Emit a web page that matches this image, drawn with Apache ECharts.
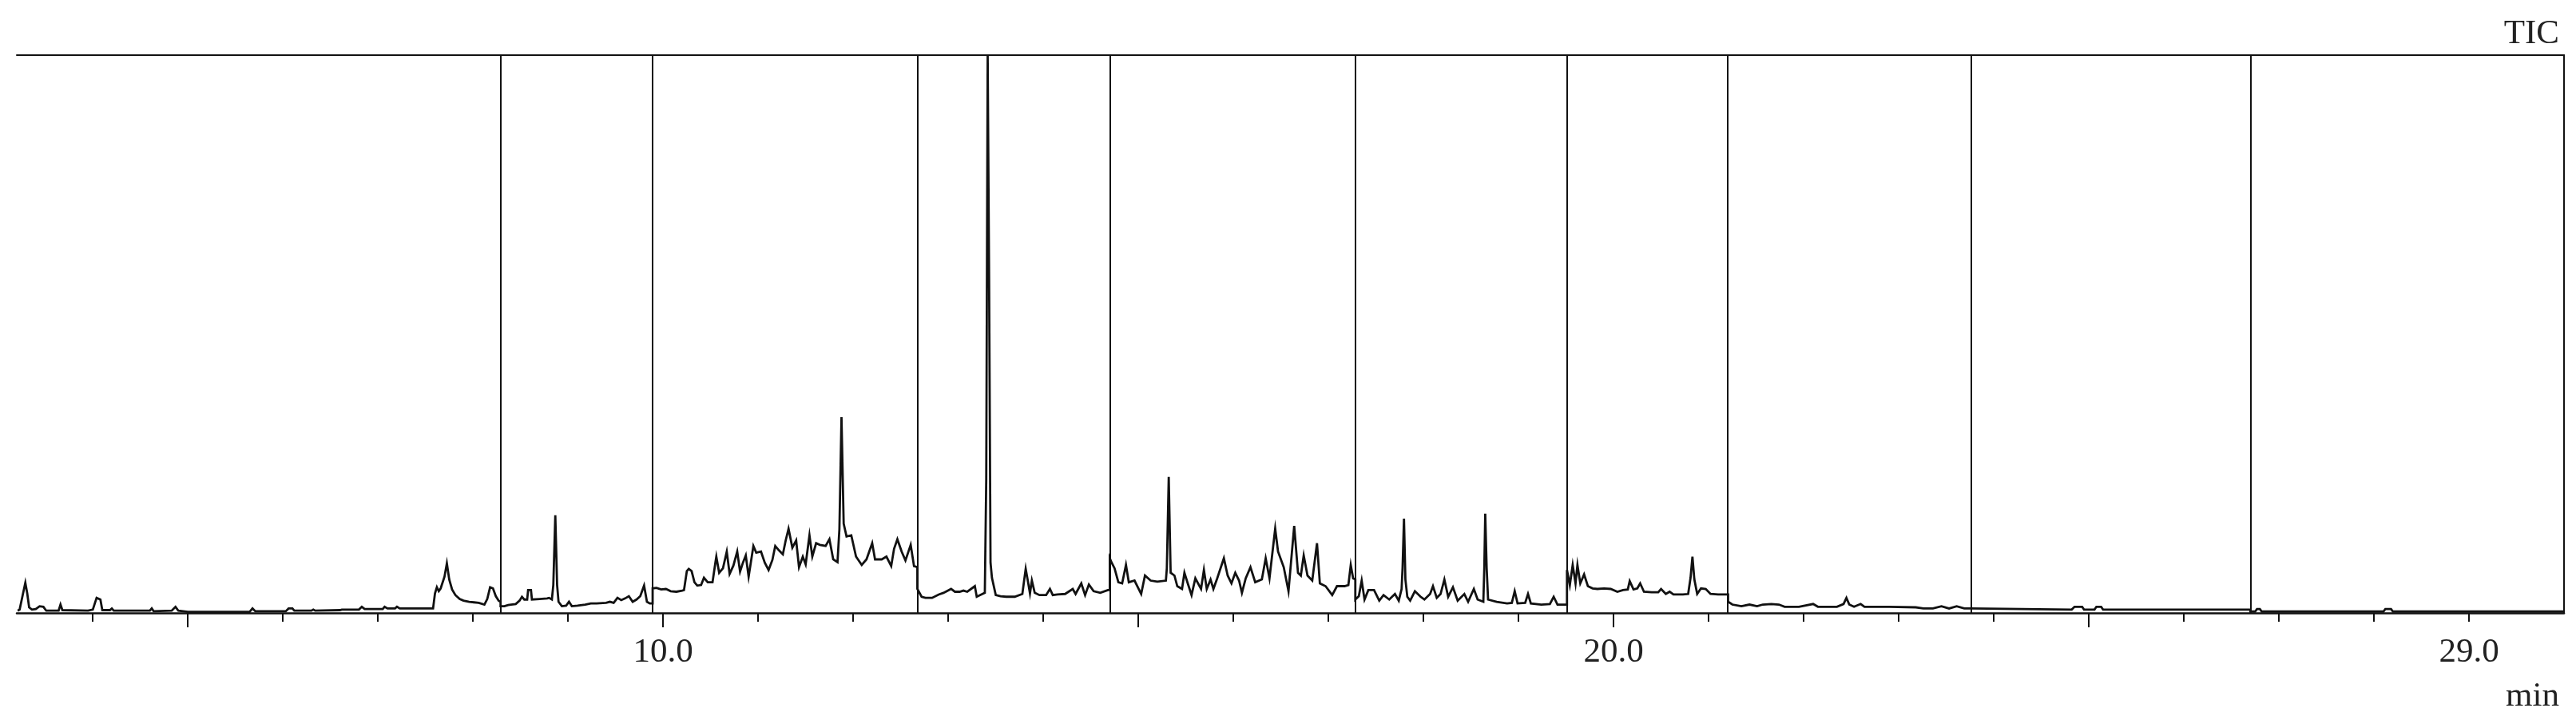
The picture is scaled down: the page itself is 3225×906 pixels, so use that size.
<!DOCTYPE html>
<html>
<head>
<meta charset="utf-8">
<script src="https://cdn.jsdelivr.net/npm/echarts@6/dist/echarts.min.js"></script>
<style>
html,body{margin:0;padding:0;background:#fff;}
#chart{width:3225px;height:906px;}
</style>
</head>
<body>
<div id="chart"></div>
<script>
// Retention time (min) / relative intensity pairs, one array per acquisition segment
const segA = [[3.21,0.4],[3.23,0.6],[3.26,3.0],[3.29,5.4],[3.31,3.5],[3.33,1.0],[3.36,0.6],[3.40,0.7],[3.44,1.2],[3.48,1.1],[3.51,0.4],[3.64,0.4],[3.66,1.5],[3.68,0.5],[3.95,0.4],[4.00,0.6],[4.04,2.7],[4.08,2.4],[4.10,0.5],[4.18,0.5],[4.20,0.8],[4.22,0.4],[4.60,0.4],[4.62,0.8],[4.64,0.3],[4.83,0.4],[4.87,1.1],[4.90,0.4],[5.00,0.2],[5.65,0.2],[5.68,0.8],[5.71,0.3],[6.03,0.3],[6.06,0.8],[6.10,0.8],[6.12,0.4],[6.30,0.4],[6.32,0.6],[6.34,0.4],[6.60,0.5],[6.62,0.6],[6.80,0.6],[6.83,1.1],[6.86,0.7],[7.05,0.7],[7.07,1.1],[7.10,0.8],[7.18,0.8],[7.20,1.1],[7.23,0.8],[7.58,0.8],[7.60,3.5],[7.62,4.6],[7.64,3.9],[7.66,4.4],[7.70,6.5],[7.725,8.9],[7.75,6.0],[7.78,4.2],[7.815,3.2],[7.86,2.5],[7.90,2.2],[7.96,2.0],[8.01,1.9],[8.06,1.8],[8.12,1.5],[8.15,2.5],[8.18,4.6],[8.21,4.4],[8.24,3.0],[8.27,2.2],[8.29,2.0]];
const segB = [[8.29,1.2],[8.33,1.2],[8.37,1.4],[8.40,1.5],[8.45,1.6],[8.49,2.2],[8.515,2.9],[8.54,2.4],[8.57,2.4],[8.58,4.1],[8.61,4.1],[8.62,2.4],[8.70,2.5],[8.78,2.6],[8.80,2.7],[8.83,2.4],[8.845,5.0],[8.866,17.5],[8.885,5.0],[8.90,2.0],[8.935,1.2],[8.98,1.3],[9.01,2.0],[9.04,1.2],[9.10,1.3],[9.18,1.5],[9.24,1.7],[9.30,1.7],[9.40,1.8],[9.44,2.0],[9.48,1.8],[9.52,2.7],[9.56,2.3],[9.60,2.6],[9.64,3.0],[9.68,2.0],[9.72,2.4],[9.76,3.0],[9.80,4.9],[9.83,2.0],[9.86,1.7],[9.89,1.7]];
const segC = [[9.89,4.4],[9.93,4.5],[9.98,4.2],[10.03,4.3],[10.08,3.9],[10.14,3.8],[10.20,4.0],[10.22,4.1],[10.25,7.5],[10.27,7.9],[10.30,7.5],[10.33,5.5],[10.36,4.9],[10.40,5.0],[10.43,6.3],[10.47,5.5],[10.52,5.5],[10.55,9.0],[10.56,10.1],[10.59,7.2],[10.63,8.0],[10.67,11.0],[10.70,7.0],[10.74,8.5],[10.78,11.0],[10.81,7.4],[10.84,9.0],[10.87,10.3],[10.90,6.5],[10.95,12.0],[10.98,10.8],[11.03,11.0],[11.07,9.0],[11.11,7.7],[11.15,9.5],[11.18,12.0],[11.22,11.2],[11.26,10.5],[11.29,13.0],[11.32,15.1],[11.36,11.7],[11.40,13.0],[11.43,8.2],[11.47,10.1],[11.50,8.7],[11.54,13.9],[11.57,10.1],[11.61,12.5],[11.65,12.2],[11.71,12.0],[11.75,13.2],[11.79,9.6],[11.835,9.1],[11.855,15.0],[11.877,35.1],[11.90,16.0],[11.93,13.7],[11.98,13.9],[12.03,10.1],[12.09,8.6],[12.14,9.6],[12.20,12.5],[12.23,9.6],[12.30,9.6],[12.35,10.1],[12.40,8.4],[12.43,11.5],[12.465,13.2],[12.51,11.0],[12.55,9.4],[12.605,12.2],[12.64,8.4],[12.675,8.2]];
const segD = [[12.675,4.3],[12.72,2.9],[12.76,2.7],[12.83,2.7],[12.90,3.3],[12.95,3.6],[13.03,4.3],[13.07,3.8],[13.12,3.8],[13.16,4.0],[13.20,3.8],[13.28,4.8],[13.30,2.9],[13.36,3.4],[13.385,3.6],[13.40,24],[13.415,100],[13.43,60],[13.445,9],[13.46,6.3],[13.50,3.2],[13.55,3.0],[13.61,2.9],[13.70,2.9],[13.78,3.4],[13.80,6.0],[13.815,7.9],[13.84,5.5],[13.86,3.5],[13.88,5.8],[13.91,3.6],[13.96,3.2],[14.03,3.2],[14.07,4.3],[14.10,3.2],[14.15,3.3],[14.23,3.4],[14.31,4.3],[14.34,3.4],[14.40,5.3],[14.44,3.2],[14.48,5.1],[14.53,3.9],[14.60,3.6],[14.68,4.1],[14.70,4.1]];
const segE = [[14.70,9.8],[14.72,9.0],[14.75,8.0],[14.79,5.5],[14.83,5.3],[14.87,8.6],[14.90,5.5],[14.96,5.8],[15.03,3.4],[15.07,6.7],[15.13,5.8],[15.20,5.6],[15.29,5.8],[15.30,8.0],[15.32,24.4],[15.34,7.2],[15.38,6.7],[15.41,4.8],[15.46,4.3],[15.485,7.2],[15.52,5.3],[15.56,3.2],[15.60,6.2],[15.66,4.3],[15.69,7.7],[15.72,4.3],[15.76,6.0],[15.79,4.3],[15.83,6.2],[15.90,9.8],[15.94,6.7],[15.98,5.3],[16.02,7.2],[16.06,5.8],[16.09,3.6],[16.13,6.2],[16.18,8.2],[16.23,5.5],[16.30,6.0],[16.34,9.8],[16.38,6.2],[16.44,15.1],[16.47,11.0],[16.53,8.2],[16.58,3.9],[16.64,15.6],[16.68,7.2],[16.71,6.7],[16.74,10.3],[16.78,6.7],[16.83,5.8],[16.88,12.5],[16.91,5.3],[16.97,4.8],[17.04,3.2],[17.09,4.8],[17.17,4.8],[17.21,5.0],[17.235,8.6],[17.26,6.2],[17.283,6.0]];
const segF = [[17.283,2.4],[17.32,3.0],[17.35,5.8],[17.38,2.4],[17.42,4.1],[17.48,4.1],[17.535,2.2],[17.58,3.2],[17.64,2.4],[17.70,3.4],[17.74,2.2],[17.77,4.3],[17.78,8.0],[17.795,16.9],[17.81,6.0],[17.83,2.9],[17.86,2.2],[17.91,3.9],[17.97,2.9],[18.01,2.4],[18.07,3.4],[18.10,4.8],[18.14,2.7],[18.18,3.4],[18.22,6.0],[18.26,2.9],[18.31,4.6],[18.36,2.2],[18.43,3.4],[18.47,2.0],[18.53,4.3],[18.57,2.4],[18.63,2.0],[18.64,8.0],[18.65,17.8],[18.665,8.0],[18.68,2.4],[18.77,2.0],[18.88,1.7],[18.93,1.8],[18.96,3.9],[18.99,1.7],[19.07,1.8],[19.10,3.4],[19.13,1.7],[19.24,1.5],[19.33,1.6],[19.37,2.9],[19.41,1.5],[19.51,1.5]];
const segG = [[19.51,7.7],[19.54,5.0],[19.57,8.6],[19.60,5.3],[19.62,8.6],[19.65,5.3],[19.69,6.9],[19.73,4.8],[19.78,4.4],[19.83,4.3],[19.90,4.4],[19.97,4.3],[20.04,3.8],[20.10,4.1],[20.15,4.2],[20.17,5.7],[20.21,4.2],[20.25,4.4],[20.28,5.3],[20.32,3.8],[20.40,3.7],[20.47,3.7],[20.50,4.3],[20.55,3.4],[20.59,3.8],[20.63,3.3],[20.73,3.3],[20.785,3.4],[20.81,6.3],[20.83,10.1],[20.85,6.0],[20.88,3.4],[20.92,4.4],[20.97,4.3],[21.02,3.4],[21.10,3.3],[21.205,3.3]];
const segH = [[21.205,2.0],[21.25,1.5],[21.345,1.2],[21.43,1.5],[21.51,1.2],[21.57,1.5],[21.66,1.6],[21.74,1.5],[21.80,1.1],[21.95,1.1],[22.10,1.6],[22.15,1.1],[22.35,1.1],[22.42,1.6],[22.45,2.7],[22.48,1.5],[22.53,1.1],[22.60,1.6],[22.64,1.1],[22.90,1.1],[23.18,1.0],[23.26,0.8],[23.36,0.8],[23.45,1.2],[23.53,0.8],[23.61,1.2],[23.69,0.8],[23.76,0.8]];
const segI = [[23.76,0.6],[24.82,0.6],[24.85,1.1],[24.93,1.1],[24.95,0.6],[25.06,0.6],[25.08,1.1],[25.13,1.1],[25.15,0.6],[26.70,0.6]];
const segJ = [[26.70,0.25],[26.75,0.25],[26.77,0.7],[26.80,0.7],[26.82,0.25],[28.10,0.25],[28.12,0.7],[28.18,0.7],[28.20,0.25],[30.0,0.25]];

const segmentBoundaries = [8.29, 9.89, 12.675, 14.70, 17.283, 19.51, 21.205, 23.76, 26.70];
const minorTicks = [4,5,6,7,8,9,10,11,12,13,14,15,16,17,18,19,20,21,22,23,24,25,26,27,28,29];
const majorTicks = [5,10,15,20,25];
const tickLabels = [10,20,29];
const xMin = 3.2, xMax = 30.0;
const yMin = 0, yMax = 100;
const traceName = 'TIC';
const unitName = 'min';

const trace = [].concat(segA, segB, segC, segD, segE, segF, segG, segH, segI, segJ);

const font = '"Liberation Serif", "Times New Roman", Times, serif';
const ink = '#111';

const chart = echarts.init(document.getElementById('chart'), null, {renderer: 'canvas'});
chart.setOption({
  backgroundColor: '#ffffff',
  animation: false,
  title: [
    {text: traceName, right: 16, top: 16, textStyle: {fontFamily: font, fontSize: 43, fontWeight: 'normal', color: '#222'}},
    {text: unitName, right: 16, top: 845, textStyle: {fontFamily: font, fontSize: 43, fontWeight: 'normal', color: '#222'}}
  ],
  grid: {left: 21, right: 15, top: 69, bottom: 139, containLabel: false, outerBoundsMode: 'none'},
  xAxis: [
    {
      type: 'value', position: 'bottom', min: xMin, max: xMax,
      axisLine: {show: true, onZero: false, lineStyle: {color: ink, width: 2.5}},
      axisTick: {show: true, customValues: minorTicks, length: 11, lineStyle: {color: ink, width: 2}},
      axisLabel: {show: true, customValues: tickLabels, margin: 28, fontFamily: font, fontSize: 43, color: '#222',
        formatter: v => Number(v).toFixed(1)},
      splitLine: {show: false}
    },
    {
      type: 'value', position: 'bottom', min: xMin, max: xMax,
      axisLine: {show: false, onZero: false},
      axisTick: {show: true, customValues: majorTicks, length: 18, lineStyle: {color: ink, width: 2}},
      axisLabel: {show: false},
      splitLine: {show: false}
    },
    {
      type: 'value', position: 'top', min: xMin, max: xMax,
      axisLine: {show: true, onZero: false, lineStyle: {color: ink, width: 2}},
      axisTick: {show: false}, axisLabel: {show: false}, splitLine: {show: false}
    }
  ],
  yAxis: {
    type: 'value', position: 'right', min: yMin, max: yMax,
    axisLine: {show: true, onZero: false, lineStyle: {color: ink, width: 2}},
    axisTick: {show: false}, axisLabel: {show: false}, splitLine: {show: false}
  },
  series: [{
    type: 'line', name: traceName, xAxisIndex: 0, yAxisIndex: 0,
    data: trace, showSymbol: false, symbol: 'none', smooth: false, clip: true,
    lineStyle: {color: ink, width: 2.8, join: 'miter'},
    markLine: {
      silent: true, symbol: ['none', 'none'], animation: false,
      label: {show: false},
      lineStyle: {color: ink, width: 2, type: 'solid'},
      emphasis: {disabled: true},
      data: segmentBoundaries.map(t => ({xAxis: t}))
    }
  }]
});
</script>
</body>
</html>
